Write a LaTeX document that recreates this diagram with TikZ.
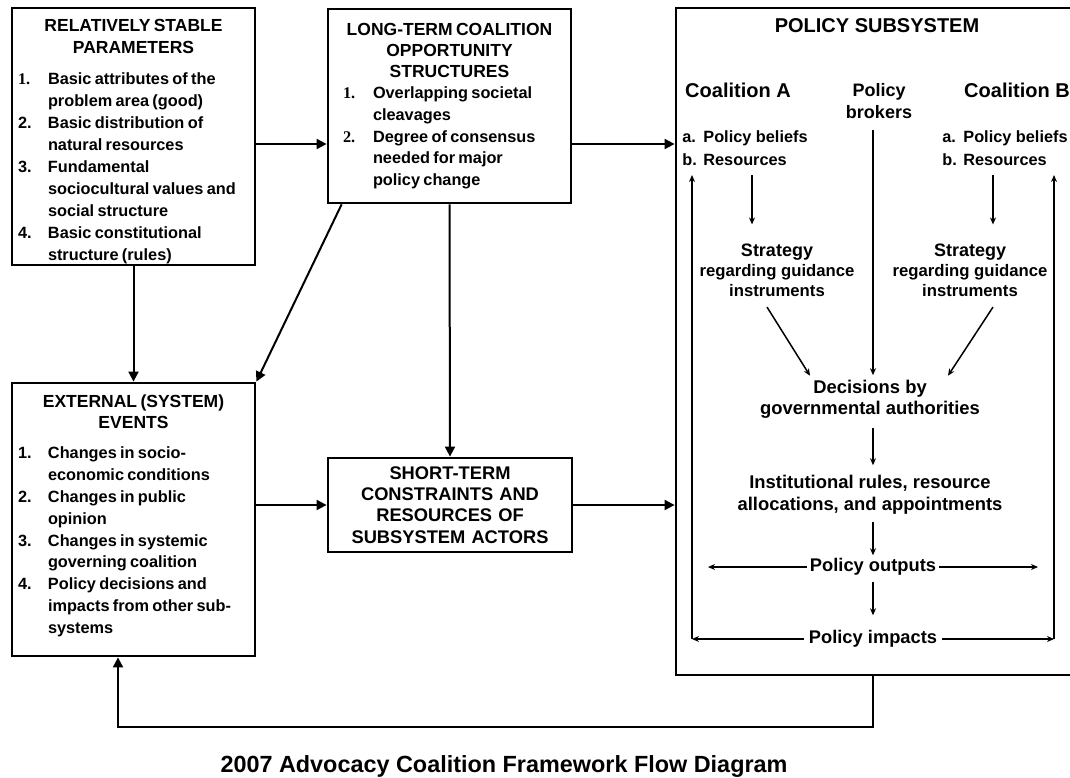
\documentclass[tikz,border=0pt]{standalone}
\usepackage{fontspec}
\setmainfont{Liberation Sans}
\newfontfamily\numfont{Liberation Serif}
\usetikzlibrary{arrows.meta}
\newcommand{\fsz}[2]{\fontsize{#1}{#2}\bfseries}
\newcommand{\lstitem}[3][]{\par\noindent\hangindent=30pt\hangafter=1\makebox[30pt][l]{#1#2}#3\par}

\begin{document}
\begin{tikzpicture}[x=1pt,y=1pt,
  stagebox/.style={draw,line width=2.8pt,inner xsep=6pt,inner ysep=0pt},
  conn/.style={line width=2pt,-{Triangle[length=10pt,width=10pt]}},
  inarrow/.style={line width=1.5pt,-{Stealth[length=7pt,width=6pt]}},
  txt/.style={inner sep=2pt,align=center}]
\useasboundingbox (0,0) rectangle (1070,-778);
\clip (0,0) rectangle (1070,-778);
\node[stagebox,text width=231pt,minimum height=257pt] (params) at (133.5,-136.5) {%
\hrule height0pt\vspace{10pt}
{\centering\fsz{17.5}{22}RELATIVELY STABLE\par PARAMETERS\par}\vspace{9pt}
\fsz{16.3}{22}%
\lstitem[\numfont]{1.}{Basic attributes of the\newline problem area (good)}%
\lstitem{2.}{Basic distribution of\newline natural resources}%
\lstitem{3.}{Fundamental\newline sociocultural values and\newline social structure}%
\lstitem{4.}{Basic constitutional\newline structure (rules)}};
\node[stagebox,text width=213pt,inner xsep=15pt,minimum height=194pt] (longterm) at (449.5,-106) {%
{\centering\fsz{17.5}{21}LONG-TERM COALITION\par OPPORTUNITY\par STRUCTURES\par}
\fsz{16.3}{21.7}%
\lstitem[\numfont]{1.}{Overlapping societal\newline cleavages}%
\lstitem[\numfont]{2.}{Degree of consensus\newline needed for major\newline policy change}};
\node[stagebox,text width=231pt,minimum height=273pt] (events) at (133.5,-519.5) {%
{\centering\fsz{17.5}{21}EXTERNAL (SYSTEM)\par EVENTS\par}\vspace{9pt}
\fsz{16.3}{21.8}%
\lstitem{1.}{Changes in socio-\newline economic conditions}%
\lstitem{2.}{Changes in public\newline opinion}%
\lstitem{3.}{Changes in systemic\newline governing coalition}%
\lstitem{4.}{Policy decisions and\newline impacts from other sub-\newline systems}\vspace{8pt}\hrule height0pt};
\node[stagebox,text width=232pt,minimum height=94pt,align=center,font=\fsz{18.3}{21.3}] (shortterm) at (450,-505) {SHORT-TERM\\CONSTRAINTS AND\\RESOURCES OF\\SUBSYSTEM ACTORS};
\node[stagebox,minimum width=402pt,minimum height=667pt] (subsys) at (877,-341.5) {};
\node[txt,font=\fsz{20}{24}] (subtitle) at (877,-26) {POLICY SUBSYSTEM};
\node[txt,font=\fsz{20}{24}] (coalA) at (738,-90) {Coalition A};
\node[txt,font=\fsz{18}{22}] (brokers) at (879,-101) {Policy\\brokers};
\node[txt,font=\fsz{20}{24}] (coalB) at (1017,-90) {Coalition B};
\node[txt,align=left,font=\fsz{16.3}{23}] (beliefsA) at (745,-148.5) {\makebox[21pt][l]{a.}Policy beliefs\\\makebox[21pt][l]{b.}Resources};
\node[txt,align=left,font=\fsz{16.3}{23}] (beliefsB) at (1005,-148.5) {\makebox[21pt][l]{a.}Policy beliefs\\\makebox[21pt][l]{b.}Resources};
\node[txt,font=\fsz{16.7}{20}] (stratA) at (777,-270) {{\fsz{18}{20}Strategy}\\regarding guidance\\instruments};
\node[txt,font=\fsz{16.7}{20}] (stratB) at (970,-270) {{\fsz{18}{20}Strategy}\\regarding guidance\\instruments};
\node[txt,font=\fsz{18.4}{21}] (decide) at (870,-399.5) {Decisions by\\governmental authorities};
\node[txt,font=\fsz{18.4}{22}] (rules) at (870,-495) {Institutional rules, resource\\allocations, and appointments};
\node[txt,inner xsep=3pt,font=\fsz{18.3}{22}] (outputs) at (873,-567) {Policy outputs};
\node[txt,inner xsep=5pt,font=\fsz{18.3}{22}] (impacts) at (873,-639) {Policy impacts};
\node[font=\fsz{23.4}{28}] (caption) at (504,-766) {2007 Advocacy Coalition Framework Flow Diagram};
\coordinate (toprow) at (0,-144);
\coordinate (outL) at (708,-567);
\coordinate (outR) at (1038,-567);
\coordinate (impL) at (692,-639);
\coordinate (impR) at (1054,-639);
\coordinate (upL) at (692,-175);
\coordinate (upR) at (1054,-175);
\coordinate (fbR) at (873,-727);
\coordinate (fbL) at (118,-727);
\draw[conn] (params.east |- toprow) -- (longterm.west |- toprow);
\draw[conn] (longterm.east |- toprow) -- (subsys.west |- toprow);
\draw[conn] (params.south) -- (events.north);
\draw[conn] ([xshift=15pt]longterm.south west) -- (events.north east);
\draw[conn] (longterm.south) -- (shortterm.north);
\draw[conn] (events.east |- shortterm.west) -- (shortterm.west);
\draw[conn] (shortterm.east) -- (subsys.west |- shortterm.east);
\draw[conn] (subsys.south -| fbR) -- (fbR) -- (fbL) -- (events.south -| fbL);
\draw[inarrow,shorten <=7pt,shorten >=17pt] ([xshift=7pt]beliefsA.south) -- ([xshift=7pt]beliefsA.south |- stratA.north);
\draw[inarrow,shorten <=7pt,shorten >=17pt] ([xshift=-12pt]beliefsB.south) -- ([xshift=-12pt]beliefsB.south |- stratB.north);
\draw[inarrow,shorten <=9pt,shorten >=3pt] ([xshift=-6pt]brokers.south) -- ([xshift=-6pt]brokers.south |- decide.north);
\draw[inarrow] ([xshift=-10pt,yshift=-8.5pt]stratA.south) -- ([xshift=-60pt,yshift=2.5pt]decide.north);
\draw[inarrow] ([xshift=23pt,yshift=-8.5pt]stratB.south) -- ([xshift=78pt,yshift=2.5pt]decide.north);
\draw[inarrow,shorten <=7pt,shorten >=8pt] (decide.south -| outputs) -- (rules.north -| outputs);
\draw[inarrow,shorten <=5pt,shorten >=1pt] (rules.south -| outputs) -- (outputs.north);
\draw[inarrow,shorten <=4pt,shorten >=13pt] (outputs.south) -- (impacts.north);
\draw[inarrow] (outputs.west) -- (outL);
\draw[inarrow] (outputs.east) -- (outR);
\draw[inarrow] (impacts.west) -- (impL);
\draw[inarrow] (impacts.east) -- (impR);
\draw[inarrow] (impL) -- (upL);
\draw[inarrow] (impR) -- (upR);
\end{tikzpicture}
\end{document}
